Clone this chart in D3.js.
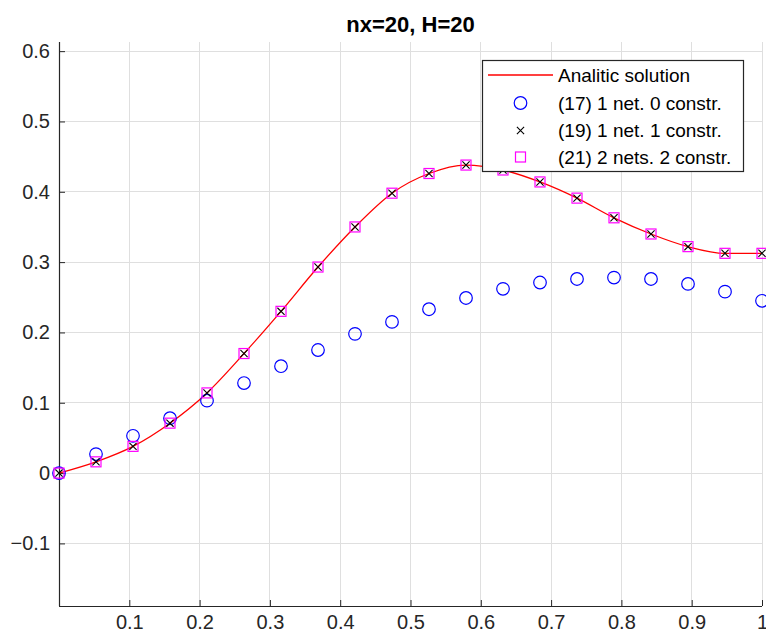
<!DOCTYPE html>
<html>
<head>
<meta charset="utf-8">
<script src="https://cdn.jsdelivr.net/npm/d3@7"></script>
<style>
  body { margin: 0; background: #fff; }
  svg { display: block; font-family: "Liberation Sans", Arial, sans-serif; }
  .tick text { fill: #262626; font-size: 20px; }
</style>
</head>
<body>
<div class="graphbox"></div>
<script>
// 20 nodes, x = i/19
var nodes = d3.range(20)
var analytic = [0,0.016,0.038,0.071,0.114,0.170,0.230,0.293,0.350,0.398,0.426,0.438,0.431,0.414,0.391,0.363,0.340,0.322,0.3125,0.3125]
var scheme17 = [0,0.027,0.053,0.078,0.103,0.128,0.152,0.175,0.198,0.215,0.233,0.249,0.262,0.271,0.276,0.278,0.276,0.269,0.258,0.245]
var scheme19 = [0,0.016,0.038,0.071,0.114,0.170,0.230,0.293,0.350,0.398,0.426,0.438,0.431,0.414,0.391,0.363,0.340,0.322,0.3125,0.3125]
var scheme21 = [0,0.016,0.038,0.071,0.114,0.170,0.230,0.293,0.350,0.398,0.426,0.438,0.431,0.414,0.391,0.363,0.340,0.322,0.3125,0.3125]
var xTicks = [0.1,0.2,0.3,0.4,0.5,0.6,0.7,0.8,0.9,1]
var yTicks = [-0.1,0,0.1,0.2,0.3,0.4,0.5,0.6]
var legendLabels = ["Analitic solution","(17) 1 net. 0 constr.","(19) 1 net. 1 constr.","(21) 2 nets. 2 constr."]
var chartTitle = "nx=20, H=20"

var svgWidth = 766
var svgHeight = 635
var pLeft = 59, pRight = 762, pTop = 42, pBottom = 606

var xs = d3.scaleLinear().domain([0,1]).range([pLeft,pRight])
var ys = d3.scaleLinear().domain([-0.189,0.613]).range([pBottom,pTop])
var xOf = function(d,i) { return xs(i/19) }

var mysvg = d3.select(".graphbox")
  .append("svg")
  .attr("width", svgWidth)
  .attr("height", svgHeight)

// grid
mysvg.append("g").selectAll("line")
  .data(xTicks)
  .enter().append("line")
  .attr("x1", function(d) { return xs(d) })
  .attr("x2", function(d) { return xs(d) })
  .attr("y1", pTop).attr("y2", pBottom)
  .attr("stroke", "#dfdfdf")
  .attr("shape-rendering","crispEdges")

mysvg.append("g").selectAll("line")
  .data(yTicks)
  .enter().append("line")
  .attr("x1", pLeft).attr("x2", pRight)
  .attr("y1", function(d) { return ys(d) })
  .attr("y2", function(d) { return ys(d) })
  .attr("stroke", "#dfdfdf")
  .attr("shape-rendering","crispEdges")

// axes, ticks pointing inward
var xAxis = mysvg.append("g")
  .attr("transform", "translate(0," + pBottom + ")")
  .call(d3.axisBottom(xs).tickValues(xTicks).tickSizeInner(-6).tickSizeOuter(0).tickPadding(9).tickFormat(d3.format("~g")))
var yAxis = mysvg.append("g")
  .attr("transform", "translate(" + pLeft + ",0)")
  .call(d3.axisLeft(ys).tickValues(yTicks).tickSizeInner(-6).tickSizeOuter(0).tickPadding(9).tickFormat(d3.format("~g")))

mysvg.selectAll(".domain").attr("stroke","#262626").attr("stroke-width",1.2)
mysvg.selectAll(".tick line").attr("stroke","#262626")
xAxis.select(".domain").attr("d","M" + pLeft + ",0.5H" + pRight)
yAxis.select(".domain").attr("d","M0.5," + pTop + "V" + pBottom)

// analytic line
var line = d3.line()
  .x(xOf)
  .y(function(d) { return ys(d) })
  .curve(d3.curveMonotoneX)

mysvg.append("path")
  .datum(analytic)
  .attr("d", line)
  .attr("fill","none")
  .attr("stroke","#ff0000")
  .attr("stroke-width",1.3)

// (17) circles
mysvg.append("g").selectAll("circle")
  .data(scheme17)
  .enter().append("circle")
  .attr("cx", xOf)
  .attr("cy", function(d) { return ys(d) })
  .attr("r", 6.3)
  .attr("fill","none")
  .attr("stroke","#0000ff")
  .attr("stroke-width",1.2)

// (19) crosses
var cross = function(cx, cy, s) {
  return "M" + (cx-s) + "," + (cy-s) + "L" + (cx+s) + "," + (cy+s) + "M" + (cx-s) + "," + (cy+s) + "L" + (cx+s) + "," + (cy-s)
}
mysvg.append("g").selectAll("path")
  .data(scheme19)
  .enter().append("path")
  .attr("d", function(d,i) { return cross(xOf(d,i), ys(d), 3.6) })
  .attr("stroke","#000")
  .attr("stroke-width",1.1)

// (21) squares
mysvg.append("g").selectAll("rect")
  .data(scheme21)
  .enter().append("rect")
  .attr("x", function(d,i) { return xOf(d,i) - 5 })
  .attr("y", function(d) { return ys(d) - 5 })
  .attr("width", 10)
  .attr("height", 10)
  .attr("fill","none")
  .attr("stroke","#ff00ff")
  .attr("stroke-width",1.2)

// title
mysvg.append("text")
  .attr("x", (pLeft + pRight) / 2)
  .attr("y", 32)
  .attr("text-anchor","middle")
  .attr("font-size","22px")
  .attr("font-weight","bold")
  .attr("fill","#000")
  .text(chartTitle)

// legend
var lg = mysvg.append("g")
lg.append("rect")
  .attr("x", 482.5).attr("y", 60.5)
  .attr("width", 261).attr("height", 111)
  .attr("fill","#fff")
  .attr("stroke","#262626")
  .attr("stroke-width",1.2)

var rowY = [75, 103, 130.5, 157]
var mx = 520.5
lg.append("line")
  .attr("x1", 488).attr("x2", 553)
  .attr("y1", rowY[0]).attr("y2", rowY[0])
  .attr("stroke","#ff0000").attr("stroke-width",1.3)
lg.append("circle")
  .attr("cx", mx).attr("cy", rowY[1]).attr("r", 6.3)
  .attr("fill","none").attr("stroke","#0000ff").attr("stroke-width",1.2)
lg.append("path")
  .attr("d", cross(mx, rowY[2], 3.6))
  .attr("stroke","#000").attr("stroke-width",1.1)
lg.append("rect")
  .attr("x", mx - 5).attr("y", rowY[3] - 5).attr("width",10).attr("height",10)
  .attr("fill","none").attr("stroke","#ff00ff").attr("stroke-width",1.2)

lg.selectAll("text")
  .data(legendLabels)
  .enter().append("text")
  .attr("x", 558)
  .attr("y", function(d,i) { return rowY[i] })
  .attr("dy","0.35em")
  .attr("font-size","19px")
  .attr("fill","#000")
  .text(function(d) { return d })
</script>
</body>
</html>
